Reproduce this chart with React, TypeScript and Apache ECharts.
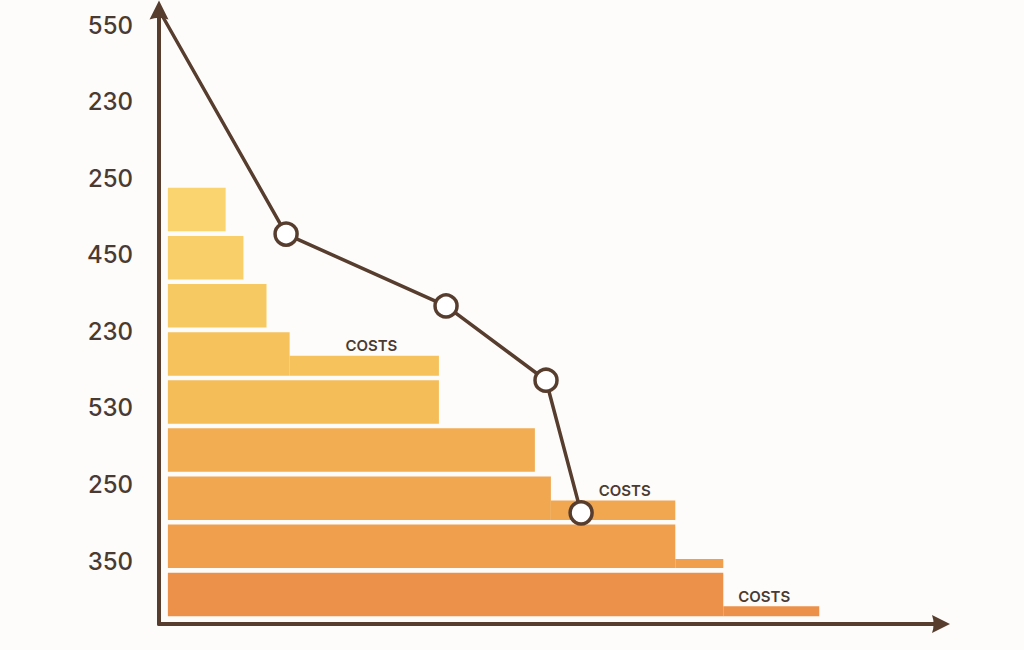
import React, { useEffect, useRef } from "react";
import * as echarts from "echarts";

// Tick labels on the left (top to bottom)
const axisLabels = ["550", "230", "250", "450", "230", "530", "250", "350"];
// Bar rows (top to bottom)
const rows = ["r1", "r2", "r3", "r4", "r5", "r6", "r7", "r8", "r9"];
const barCosts = [65, 85, 111, 137, 305, 413, 431, 571, 625];
const barColors = [
  "#fad46f", "#f9cf69", "#f7c963", "#f6c25c", "#f5bd58",
  "#f2ad52", "#f1a650", "#f0a04d", "#ec9149",
];
// Thin step extensions
const extRows = [3, 6, 7, 8];
const extStart = [137, 431, 571, 625];
const extEnd = [305, 571, 625, 733];
const extThickness = [0.46, 0.45, 0.21, 0.23];
const extLabels = ["COSTS", "COSTS", "", "COSTS"];
const extLabelAt = [229, 514, 0, 671];
// Trend line
const trendX = [-10, 133, 313, 425.5, 465];
const trendY = [100, 63.5, 51.8, 39.7, 18.1];

const BROWN = "#573d2e";
const TEXT = "#4a3b32";
const BAR_W = 43.5;

export default function App() {
  const ref = useRef<HTMLDivElement>(null);
  useEffect(() => {
    if (!ref.current) return;
    const chart = echarts.init(ref.current, null, { renderer: "svg" });
    const arrowPath = "path://M10,0 L20,20 Q10,16.5 0,20 Z";
    const option: any = {
      animation: false,
      backgroundColor: "#fdfcfa",
      grid: [
        { left: 159, right: 83, top: 10, bottom: 26 },
        { left: 159, right: 83, top: 25, bottom: 89 },
        { left: 159, right: 83, top: 185.5, bottom: 31.5 },
      ],
      xAxis: [
        {
          gridIndex: 0, type: "value", min: -10, max: 870,
          axisLine: {
            show: true, onZero: false,
            lineStyle: { color: BROWN, width: 4 },
            symbol: ["none", arrowPath], symbolSize: [18, 22],
          },
          axisTick: { show: false }, axisLabel: { show: false }, splitLine: { show: false },
        },
        { gridIndex: 1, type: "value", min: 0, max: 1, show: false },
        { gridIndex: 2, type: "value", min: -10, max: 870, show: false },
      ],
      yAxis: [
        {
          gridIndex: 0, type: "value", min: 0, max: 100,
          axisLine: {
            show: true, onZero: false,
            lineStyle: { color: BROWN, width: 4 },
            symbol: ["none", arrowPath], symbolSize: [19, 20],
          },
          axisTick: { show: false }, axisLabel: { show: false }, splitLine: { show: false },
        },
        {
          gridIndex: 1, type: "category", data: axisLabels, inverse: true, boundaryGap: false,
          axisLine: { show: false }, axisTick: { show: false }, splitLine: { show: false },
          axisLabel: {
            margin: 26, fontSize: 24, fontFamily: "Inter", fontWeight: 500, color: TEXT,
          },
        },
        { gridIndex: 2, type: "category", data: rows, inverse: true, show: false },
      ],
      series: [
        {
          type: "bar",
          xAxisIndex: 2, yAxisIndex: 2,
          barWidth: BAR_W,
          z: 2,
          data: barCosts.map((v, i) => ({ value: v, itemStyle: { color: barColors[i] } })),
        },
        {
          type: "custom",
          xAxisIndex: 2, yAxisIndex: 2,
          z: 3,
          encode: { x: [1, 2], y: 0 },
          data: extRows.map((r, i) => [r, extStart[i], extEnd[i], extThickness[i]]),
          renderItem: (params: any, api: any) => {
            const row = api.value(0);
            const s = api.value(1);
            const e = api.value(2);
            const t = api.value(3);
            const p0 = api.coord([s, row]);
            const p1 = api.coord([e, row]);
            const bottom = p0[1] + BAR_W / 2;
            const h = BAR_W * t;
            const children: any[] = [
              {
                type: "rect",
                shape: { x: p0[0], y: bottom - h, width: p1[0] - p0[0], height: h },
                style: { fill: barColors[row] },
              },
            ];
            const lbl = extLabels[params.dataIndex];
            if (lbl) {
              const lp = api.coord([extLabelAt[params.dataIndex], row]);
              children.push({
                type: "text",
                x: lp[0],
                y: bottom - h - 10,
                style: {
                  text: lbl, fill: TEXT, fontSize: 15, fontFamily: "Inter", fontWeight: 600,
                  align: "center", verticalAlign: "middle",
                },
              });
            }
            return { type: "group", children };
          },
        },
        {
          type: "line",
          xAxisIndex: 0, yAxisIndex: 0,
          z: 5,
          data: trendX.map((x, i) =>
            i === 0 ? { value: [x, trendY[i]], symbol: "none" } : { value: [x, trendY[i]] }
          ),
          symbol: "circle",
          symbolSize: 22,
          showAllSymbol: true,
          lineStyle: { color: BROWN, width: 3.5 },
          itemStyle: { color: "#ffffff", borderColor: BROWN, borderWidth: 3.5 },
        },
      ],
    };
    chart.setOption(option);
    return () => chart.dispose();
  }, []);
  return (
    <div
      ref={ref}
      style={{ position: "fixed", left: 0, top: 0, width: 1024, height: 650 }}
    />
  );
}
